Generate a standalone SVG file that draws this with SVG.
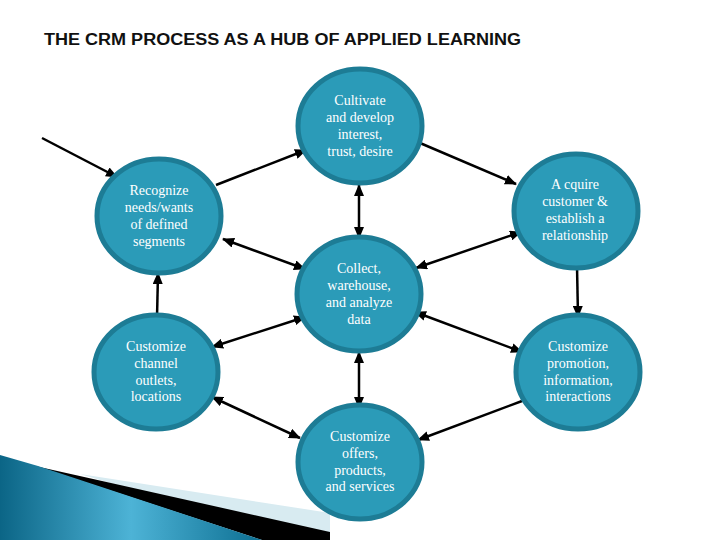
<svg xmlns="http://www.w3.org/2000/svg" width="720" height="540" viewBox="0 0 720 540">
<defs>
<style>
.title{font-family:"Liberation Sans",Arial,sans-serif;font-size:16px;font-weight:bold;fill:#111}
.node ellipse{fill:#2b9bb8;stroke:#1d7c95;stroke-width:5}
.node text{font-family:"Liberation Serif","Times New Roman",serif;font-size:14px;fill:#fff;text-anchor:middle}
.conn line{stroke:#000;stroke-width:2.5}
</style>
<marker id="ah" viewBox="0 0 12 10" refX="11" refY="5" markerWidth="12" markerHeight="10" markerUnits="userSpaceOnUse" orient="auto-start-reverse">
<path d="M0,0 L12,5 L0,10 z" fill="#000"/>
</marker>
<linearGradient id="wedge" x1="0" y1="0" x2="1" y2="0">
<stop offset="0" stop-color="#0b6586"/>
<stop offset="0.5" stop-color="#4db3d6"/>
<stop offset="1" stop-color="#0d6f92"/>
</linearGradient>
</defs>
<rect width="720" height="540" fill="#fff"/>
<text class="title" x="44" y="45" textLength="477" lengthAdjust="spacingAndGlyphs">THE CRM PROCESS AS A HUB OF APPLIED LEARNING</text>
<g id="decoration">
<polygon points="80,474 330,513 330,540 300,540" fill="#d8ebf1"/>
<polygon points="35,466 330,532 330,540 262,540" fill="#000"/>
<polygon points="0,455 38,466 262,540 0,540" fill="url(#wedge)"/>
</g>
<g class="conn" id="connectors">
<line x1="42" y1="138" x2="117" y2="177" marker-end="url(#ah)"/>
<line x1="216" y1="185" x2="306" y2="150" marker-end="url(#ah)"/>
<line x1="420" y1="143" x2="516" y2="184" marker-end="url(#ah)"/>
<line x1="577" y1="266" x2="578" y2="317" marker-end="url(#ah)"/>
<line x1="359" y1="185" x2="359" y2="238" marker-start="url(#ah)" marker-end="url(#ah)"/>
<line x1="223" y1="239" x2="305" y2="269" marker-start="url(#ah)" marker-end="url(#ah)"/>
<line x1="416" y1="268" x2="521" y2="232" marker-start="url(#ah)" marker-end="url(#ah)"/>
<line x1="157" y1="318" x2="158" y2="273" marker-end="url(#ah)"/>
<line x1="305" y1="317" x2="212" y2="347" marker-start="url(#ah)" marker-end="url(#ah)"/>
<line x1="415" y1="312" x2="522" y2="352" marker-start="url(#ah)" marker-end="url(#ah)"/>
<line x1="359" y1="352" x2="359" y2="408" marker-start="url(#ah)" marker-end="url(#ah)"/>
<line x1="212" y1="397" x2="300" y2="438" marker-start="url(#ah)" marker-end="url(#ah)"/>
<line x1="522" y1="401" x2="418" y2="440" marker-end="url(#ah)"/>
</g>
<g class="node" id="n-cultivate">
<ellipse cx="360" cy="126" rx="62" ry="57"/>
<text x="360" y="105">Cultivate</text>
<text x="360" y="122">and develop</text>
<text x="360" y="139">interest,</text>
<text x="360" y="156">trust, desire</text>
</g>
<g class="node" id="n-recognize">
<ellipse cx="159" cy="216" rx="62" ry="57"/>
<text x="159" y="195">Recognize</text>
<text x="159" y="212">needs/wants</text>
<text x="159" y="229">of defined</text>
<text x="159" y="246">segments</text>
</g>
<g class="node" id="n-acquire">
<ellipse cx="576" cy="211" rx="62" ry="57"/>
<text x="575" y="189">A cquire</text>
<text x="575" y="206">customer &amp;</text>
<text x="575" y="223">establish a</text>
<text x="575" y="240">relationship</text>
</g>
<g class="node" id="n-collect">
<ellipse cx="359" cy="294" rx="62" ry="57"/>
<text x="359" y="273">Collect,</text>
<text x="359" y="290">warehouse,</text>
<text x="359" y="307">and analyze</text>
<text x="359" y="324">data</text>
</g>
<g class="node" id="n-channel">
<ellipse cx="156" cy="372" rx="62" ry="57"/>
<text x="156" y="351">Customize</text>
<text x="156" y="368">channel</text>
<text x="156" y="385">outlets,</text>
<text x="156" y="401">locations</text>
</g>
<g class="node" id="n-promotion">
<ellipse cx="578" cy="372" rx="62" ry="57"/>
<text x="578" y="351">Customize</text>
<text x="578" y="368">promotion,</text>
<text x="578" y="385">information,</text>
<text x="578" y="401">interactions</text>
</g>
<g class="node" id="n-offers">
<ellipse cx="360" cy="462" rx="62" ry="57"/>
<text x="360" y="441">Customize</text>
<text x="360" y="458">offers,</text>
<text x="360" y="475">products,</text>
<text x="360" y="491">and services</text>
</g>
</svg>
